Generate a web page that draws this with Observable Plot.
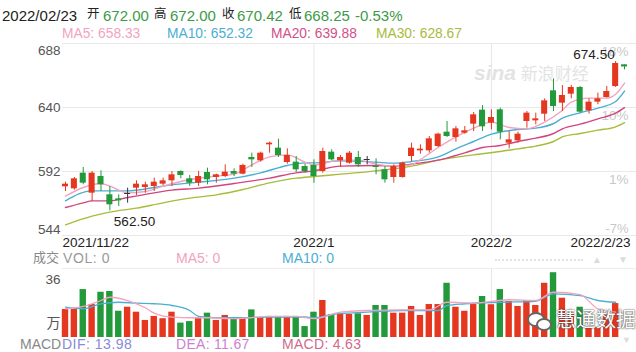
<!DOCTYPE html>
<html><head><meta charset="utf-8">
<script src="https://cdn.jsdelivr.net/npm/d3@7"></script>
<script src="https://cdn.jsdelivr.net/npm/@observablehq/plot@0.6"></script>
<style>
body{margin:0;background:#fff;font-family:"Liberation Sans",Arial,"Noto Sans CJK SC",sans-serif;}
#wrap{position:relative;width:636px;height:352px;overflow:hidden;background:#fff;}
#wrap svg{position:absolute;left:0;top:0;}
.t{position:absolute;white-space:nowrap;line-height:1;}
.cjk{font-family:"Noto Sans CJK SC",sans-serif;}
</style></head><body><div id="wrap"></div>
<script>
// ---- candle data (index 0 = 2021/11/22 ... 63 = 2022/02/23) ----
const openP  = [580.5,579,590.75,575.75,588.25,574.5,571.5,575.5,579.5,580,580.75,582.5,585,592,586.5,583.25,591.25,587.5,588.25,592,590,602.5,600,612,609.5,598.75,599,595.75,596.5,592,606.5,600,598.25,602.5,601,595.75,593.25,587.5,587.5,603.25,607.5,607.5,610.75,621.5,617.5,620.75,627.5,638,628.25,638.25,613.25,615,629.5,630,635,652.5,643.25,650,655,637.5,644,647.5,655.75,672];
const closeP = [582.5,586.5,583.25,590.75,582,567,570,575.5,582.5,582,584,585,589.5,589,583.25,588.25,585.75,589.5,591.5,590,596.5,600.75,605.75,613.25,604,604,593.25,592,588.25,607,600.75,602.5,605.75,597,601,595,585.75,595.75,598.25,609.5,608.75,616.5,620,618.25,624,622.5,634.5,625.5,632.5,621.5,615.75,620,635.75,631.5,645,640.75,649,655,636.5,644,646.5,652,673,670.42];
const highP  = [584,587.5,595,592,592.5,580.75,574.5,579.5,585,584,587,587,592,592.5,589,592,594.5,590,597,594,597.5,605.75,606.5,614,616.25,609,603.25,597.5,600.75,609.5,608.25,604,607,607,603.25,601.5,595.75,597,599,613.25,612,618.25,620.75,629.5,625.75,625.75,636.25,641.5,638.25,639.5,622,621.5,637,635.75,646.5,661.5,656.5,656.5,655.75,646.5,650.75,655.75,674.5,672];
const lowP   = [577,578,582,569.5,577,562.5,565.75,568.25,574,575.75,577,581.5,580.75,586.5,580.75,580.75,582,583.25,587.5,588.25,589.5,595,599,605.75,602.5,597.5,591.25,590.75,583.25,590.75,600,595,597.5,595,597,589.5,583.25,583.25,587,599.5,605,605.75,610,617.5,614,620,622,622,623.25,615.75,609,613.25,624.5,627,629.5,637,637,646.5,635.75,635,642,647,655,668.25];
// volume (万), index 0..62; last day shows 0
const volume = [14.6,14.6,25.0,17.2,23.6,24.0,13.7,15.8,13.2,8.9,11.0,9.8,13.2,7.5,8.3,10.1,12.7,8.9,11.5,9.8,10.3,14.4,10.3,11.0,11.0,11.0,11.0,5.7,13.2,19.3,12.0,12.4,12.0,12.4,11.5,16.7,16.7,12.7,12.7,16.2,11.5,17.2,17.2,28.3,15.8,13.7,17.2,21.4,17.1,25.0,18.8,16.2,19.3,16.7,28.3,33.8,20.5,12.7,15.8,5.2,5.2,12.3,17.7];

// ---- moving averages (index, value) ----
const ma5Idx  = [0,2,4,5,7,9,11,14,17,19,21,23,25,27,28,31,33,35,37,39,40,42,44,46,48,50,52,54,56,57,59,61,62,63];
const ma5     = [573.5,580,583,581,576,577,581,586,588.5,590,597,603,604.5,599,597,600.5,600.5,597.5,596,597,601,610,618,624.5,629,625,624,629,638,644,647,647,650,658.33];
const ma10Idx = [0,3,5,7,10,12,15,19,22,25,27,28,31,35,37,39,42,44,46,48,51,53,55,56,58,60,62,63];
const ma10    = [570,577.5,577.5,577.5,580,582,584,587,591,596.5,598.5,598.5,600,599,598.25,599.5,603,609,614.5,620,623.5,624.5,628,632,636,639.5,644.5,652.32];
const ma20Idx = [0,2,3,5,7,10,12,15,19,23,26,28,31,35,37,39,42,45,47,49,51,53,55,56,58,60,62,63];
const ma20    = [565,568.5,570,570,572.5,576,578,579.5,583,587,591,592.5,596,596.5,596,597.5,600.5,606,610,611.5,614.5,617,620.5,624,627.5,631.5,635.75,639.88];
const ma30Idx = [0,3,5,8,11,14,17,20,23,26,28,31,35,39,42,46,49,51,53,55,56,58,60,62,63];
const ma30    = [552,558.5,561.5,564.5,568.5,572,574.5,578.5,583.5,587,588.25,590,592.5,596,600.5,604.5,607,609,611,614.5,618,620.5,623,625.5,628.67];
const volMa5Idx  = [0,2,4,5,7,9,10,12,14,16,19,23,26,28,31,34,38,41,43,46,50,53,55,58,60,62];
const volMa5     = [15.0,16.2,19.3,21.0,19.3,15.5,12.7,10.6,10.3,10.3,9.8,11.0,11.0,9.8,13.2,14.1,14.4,14.4,18.4,17.9,19.7,19.3,23.6,22.4,15.0,13.2];
const volMa10Idx = [0,2,4,6,8,10,12,14,15,17,19,23,27,28,30,34,38,42,43,45,49,53,55,58,60,62];
const volMa10    = [15.8,15.0,17.6,18.4,17.9,17.6,16.7,14.1,11.0,10.3,10.3,10.6,10.7,10.3,12.0,13.2,14.1,14.1,16.7,17.6,18.4,18.9,22.8,21.9,19.3,18.4];

// ---- ticks / labels ----
const priceTicks = [544, 592, 640, 688];
const pctLabels  = ["-7%", "1%", "10%", "18%"];
const xLabels    = ["2021/11/22", "2022/1", "2022/2", "2022/2/23"];
const xLabelIdx  = [0, 28, 48, 63];
const volTop     = 36;

// ---- header values ----
const headerDate = "2022/02/23";
const headerKeys = ["开", "高", "收", "低"];
const headerVals = ["672.00", "672.00", "670.42", "668.25"];
const headerChg  = "-0.53%";
const maLegend   = [["MA5: 658.33","#f2a3bf",62],["MA10: 652.32","#4aafd2",167],["MA20: 639.88","#d2508a",271],["MA30: 628.67","#a9ba3c",376]];

const RED = "#e5361f", GREEN = "#22993a", DARK = "#333333";
const C5 = "#f2a3bf", C10 = "#4aafd2", C20 = "#d2457f", C30 = "#a9bb3a";
const FONT = '"Liberation Sans", Arial, "Noto Sans CJK SC", sans-serif';
const xDomain = [-0.338, 64.35];

const candles = openP.map((o, i) => ({i, o, c: closeP[i], h: highP[i], l: lowP[i]}));
const candleColor = d => d.c > d.o ? RED : d.c < d.o ? GREEN : DARK;
const volData = volume.map((v, i) => ({i, v, col: closeP[i] >= openP[i] ? RED : GREEN}));
const series = (idx, vals) => idx.map((i, k) => ({i, v: vals[k]}));
const hiI = d3.maxIndex(highP), loI = d3.minIndex(lowP);
const pctData = priceTicks.map((v, k) => ({v, t: pctLabels[k]}));
const xLab = xLabels.map((t, k) => ({t, i: xLabelIdx[k]}));
const monthIdx = xLabelIdx.slice(1, 3);

const main = Plot.plot({
  width: 636, height: 352, marginTop: 43, marginBottom: 117, marginLeft: 62, marginRight: 0,
  x: {domain: xDomain, axis: null}, y: {domain: [544, 688], axis: null},
  color: {type: "identity"},
  style: {background: "transparent", fontFamily: FONT},
  marks: [
    Plot.ruleY(priceTicks, {stroke: "#e9e9e9"}),
    Plot.ruleX(monthIdx, {stroke: "#e6e6e6"}),
    // left labels
    Plot.text(priceTicks.slice(3), {y: d => d, text: d => String(d), frameAnchor: "left", textAnchor: "end", dx: -2, dy: 7, fontSize: 13.5, fill: "#555"}),
    Plot.text(priceTicks.slice(1, 3), {y: d => d, text: d => String(d), frameAnchor: "left", textAnchor: "end", dx: -2, fontSize: 13.5, fill: "#555"}),
    Plot.text(priceTicks.slice(0, 1), {y: d => d, text: d => String(d), frameAnchor: "left", textAnchor: "end", dx: -2, dy: -6, fontSize: 13.5, fill: "#555"}),
    // right pct labels
    Plot.text(pctData.slice(1), {y: "v", text: "t", frameAnchor: "right", textAnchor: "end", dx: -8, dy: 8, fontSize: 13.5, fill: "#c9c9c9"}),
    Plot.text(pctData.slice(0, 1), {y: "v", text: "t", frameAnchor: "right", textAnchor: "end", dx: -8, dy: -7, fontSize: 13, fill: "#c9c9c9"}),
    // x labels
    Plot.text(xLab.slice(0, 1), {x: "i", text: "t", frameAnchor: "bottom", textAnchor: "start", dx: -3, dy: 11.5, fontSize: 13.5, fill: "#222"}),
    Plot.text(xLab.slice(1, 3), {x: "i", text: "t", frameAnchor: "bottom", dy: 11.5, fontSize: 13.5, fill: "#222"}),
    Plot.text(xLab.slice(3), {x: "i", text: "t", frameAnchor: "bottom", textAnchor: "end", dx: 6, dy: 11.5, fontSize: 13.5, fill: "#222"}),
    // moving averages
    Plot.line(series(ma30Idx, ma30), {x: "i", y: "v", stroke: C30, strokeWidth: 1.4, curve: "monotone-x"}),
    Plot.line(series(ma20Idx, ma20), {x: "i", y: "v", stroke: C20, strokeWidth: 1.4, curve: "monotone-x"}),
    Plot.line(series(ma10Idx, ma10), {x: "i", y: "v", stroke: C10, strokeWidth: 1.4, curve: "monotone-x"}),
    Plot.line(series(ma5Idx, ma5), {x: "i", y: "v", stroke: C5, strokeWidth: 1.4, curve: "monotone-x"}),
    // candles
    Plot.ruleX(candles, {x: "i", y1: "l", y2: "h", stroke: candleColor, strokeWidth: 1}),
    Plot.rect(candles, {x1: d => d.i - 0.34, x2: d => d.i + 0.34, y1: "o", y2: "c", fill: candleColor}),
    Plot.ruleY(candles.filter(d => d.o === d.c), {x1: d => d.i - 0.34, x2: d => d.i + 0.34, y: "o", stroke: DARK}),
    // extremes
    Plot.text([hiI], {x: i => i, y: i => highP[i], text: i => highP[i].toFixed(2), textAnchor: "end", dx: -1, dy: -7, fontSize: 13.5, fill: "#222"}),
    Plot.text([loI], {x: i => i, y: i => lowP[i], text: i => lowP[i].toFixed(2), textAnchor: "start", dx: 4, dy: 11, fontSize: 13.5, fill: "#222"})
  ]
});

const vol = Plot.plot({
  width: 636, height: 352, marginTop: 268, marginBottom: 15, marginLeft: 62, marginRight: 0,
  x: {domain: xDomain, axis: null}, y: {domain: [0, volTop], axis: null},
  color: {type: "identity"},
  style: {background: "transparent", fontFamily: FONT},
  marks: [
    Plot.ruleY([volTop], {stroke: "#ececec"}),
    Plot.ruleX(monthIdx, {stroke: "#e6e6e6"}),
    Plot.rect(volData, {x1: d => d.i - 0.36, x2: d => d.i + 0.36, y1: 0, y2: "v", fill: "col"}),
    Plot.line(series(volMa10Idx, volMa10), {x: "i", y: "v", stroke: C10, strokeWidth: 1.3, curve: "monotone-x"}),
    Plot.line(series(volMa5Idx, volMa5), {x: "i", y: "v", stroke: C5, strokeWidth: 1.3, curve: "monotone-x"}),
    Plot.text([String(volTop)], {text: d => d, frameAnchor: "top-left", textAnchor: "end", dx: -2, dy: 6, fontSize: 13.5, fill: "#555"}),
    Plot.text(["万"], {text: d => d, frameAnchor: "bottom-left", textAnchor: "end", dx: -2, dy: -10, fontSize: 14, fill: "#555"})
  ]
});

const wrap = document.getElementById("wrap");
function addText(html, left, top, size, extra, cls) {
  const d = document.createElement("div");
  d.className = "t" + (cls ? " " + cls : "");
  d.style.left = left + "px"; d.style.top = top + "px"; d.style.fontSize = size + "px";
  if (extra) Object.assign(d.style, extra);
  d.innerHTML = html;
  wrap.appendChild(d);
  return d;
}
// watermark (behind)
addText('<span style="font-weight:bold;font-style:italic;font-size:21px">sina</span> <span class="cjk">新浪财经</span>', 474, 62, 17, {color: "#e3e3e3"});
wrap.appendChild(main);
wrap.appendChild(vol);

// header: date, then key/value groups laid out at the reference's positions
const G = "#3d9a45";
addText(headerDate, 2, 7.5, 15, {color: "#222"});
const keyX = [87, 154, 222, 289], valX = [103, 170, 237, 304];
headerKeys.forEach((k, j) => {
  addText(k, keyX[j], 7, 12.5, {color: "#222"}, "cjk");
  addText(headerVals[j], valX[j], 7.5, 15, {color: G});
});
addText(headerChg, 355, 7.5, 15, {color: G});
for (const [t, c, x] of maLegend) addText(t, x, 26.5, 13.8, {color: c});

// volume legend
addText("成交", 33, 250, 13, {color: "#888"}, "cjk");
addText("VOL: 0", 63, 250.5, 14, {color: "#999", letterSpacing: "0.6px"});
addText("MA5: 0", 176, 250.5, 14, {color: C5});
addText("MA10: 0", 282, 250.5, 14, {color: C10});
// MACD legend
addText("MACD", 20, 336.5, 14, {color: "#888"});
addText("DIF: 13.98", 62, 336.5, 14, {color: "#8a8ad6", letterSpacing: "0.5px"});
addText("DEA: 11.67", 176, 336.5, 14, {color: "#cf7fd0", letterSpacing: "0.3px"});
addText("MACD: 4.63", 282, 336.5, 14, {color: "#d06a8c", letterSpacing: "0.3px"});

// small controls at right
addText("", 495, 259, 10, {width: "88px", borderTop: "2px dotted #e2e2e2"});
addText("▲", 592, 255, 10, {color: "#dcdcdc"});
addText("▼", 618, 255, 10, {color: "#dcdcdc"});
addText("▼", 622, 336, 9, {color: "#dcdcdc"});
// footer watermark
addText("", 527, 312, 10, {width: "14px", height: "11px", border: "2px solid #666", borderRadius: "50%", background: "#fff"});
addText("", 536, 318, 10, {width: "12px", height: "9px", border: "2px solid #666", borderRadius: "50%", background: "#fff"});
addText("慧通数据", 556, 309, 20, {color: "#fff", textShadow: "0 0 2px #444, 0 0 1px #444"}, "cjk");
</script></body></html>
